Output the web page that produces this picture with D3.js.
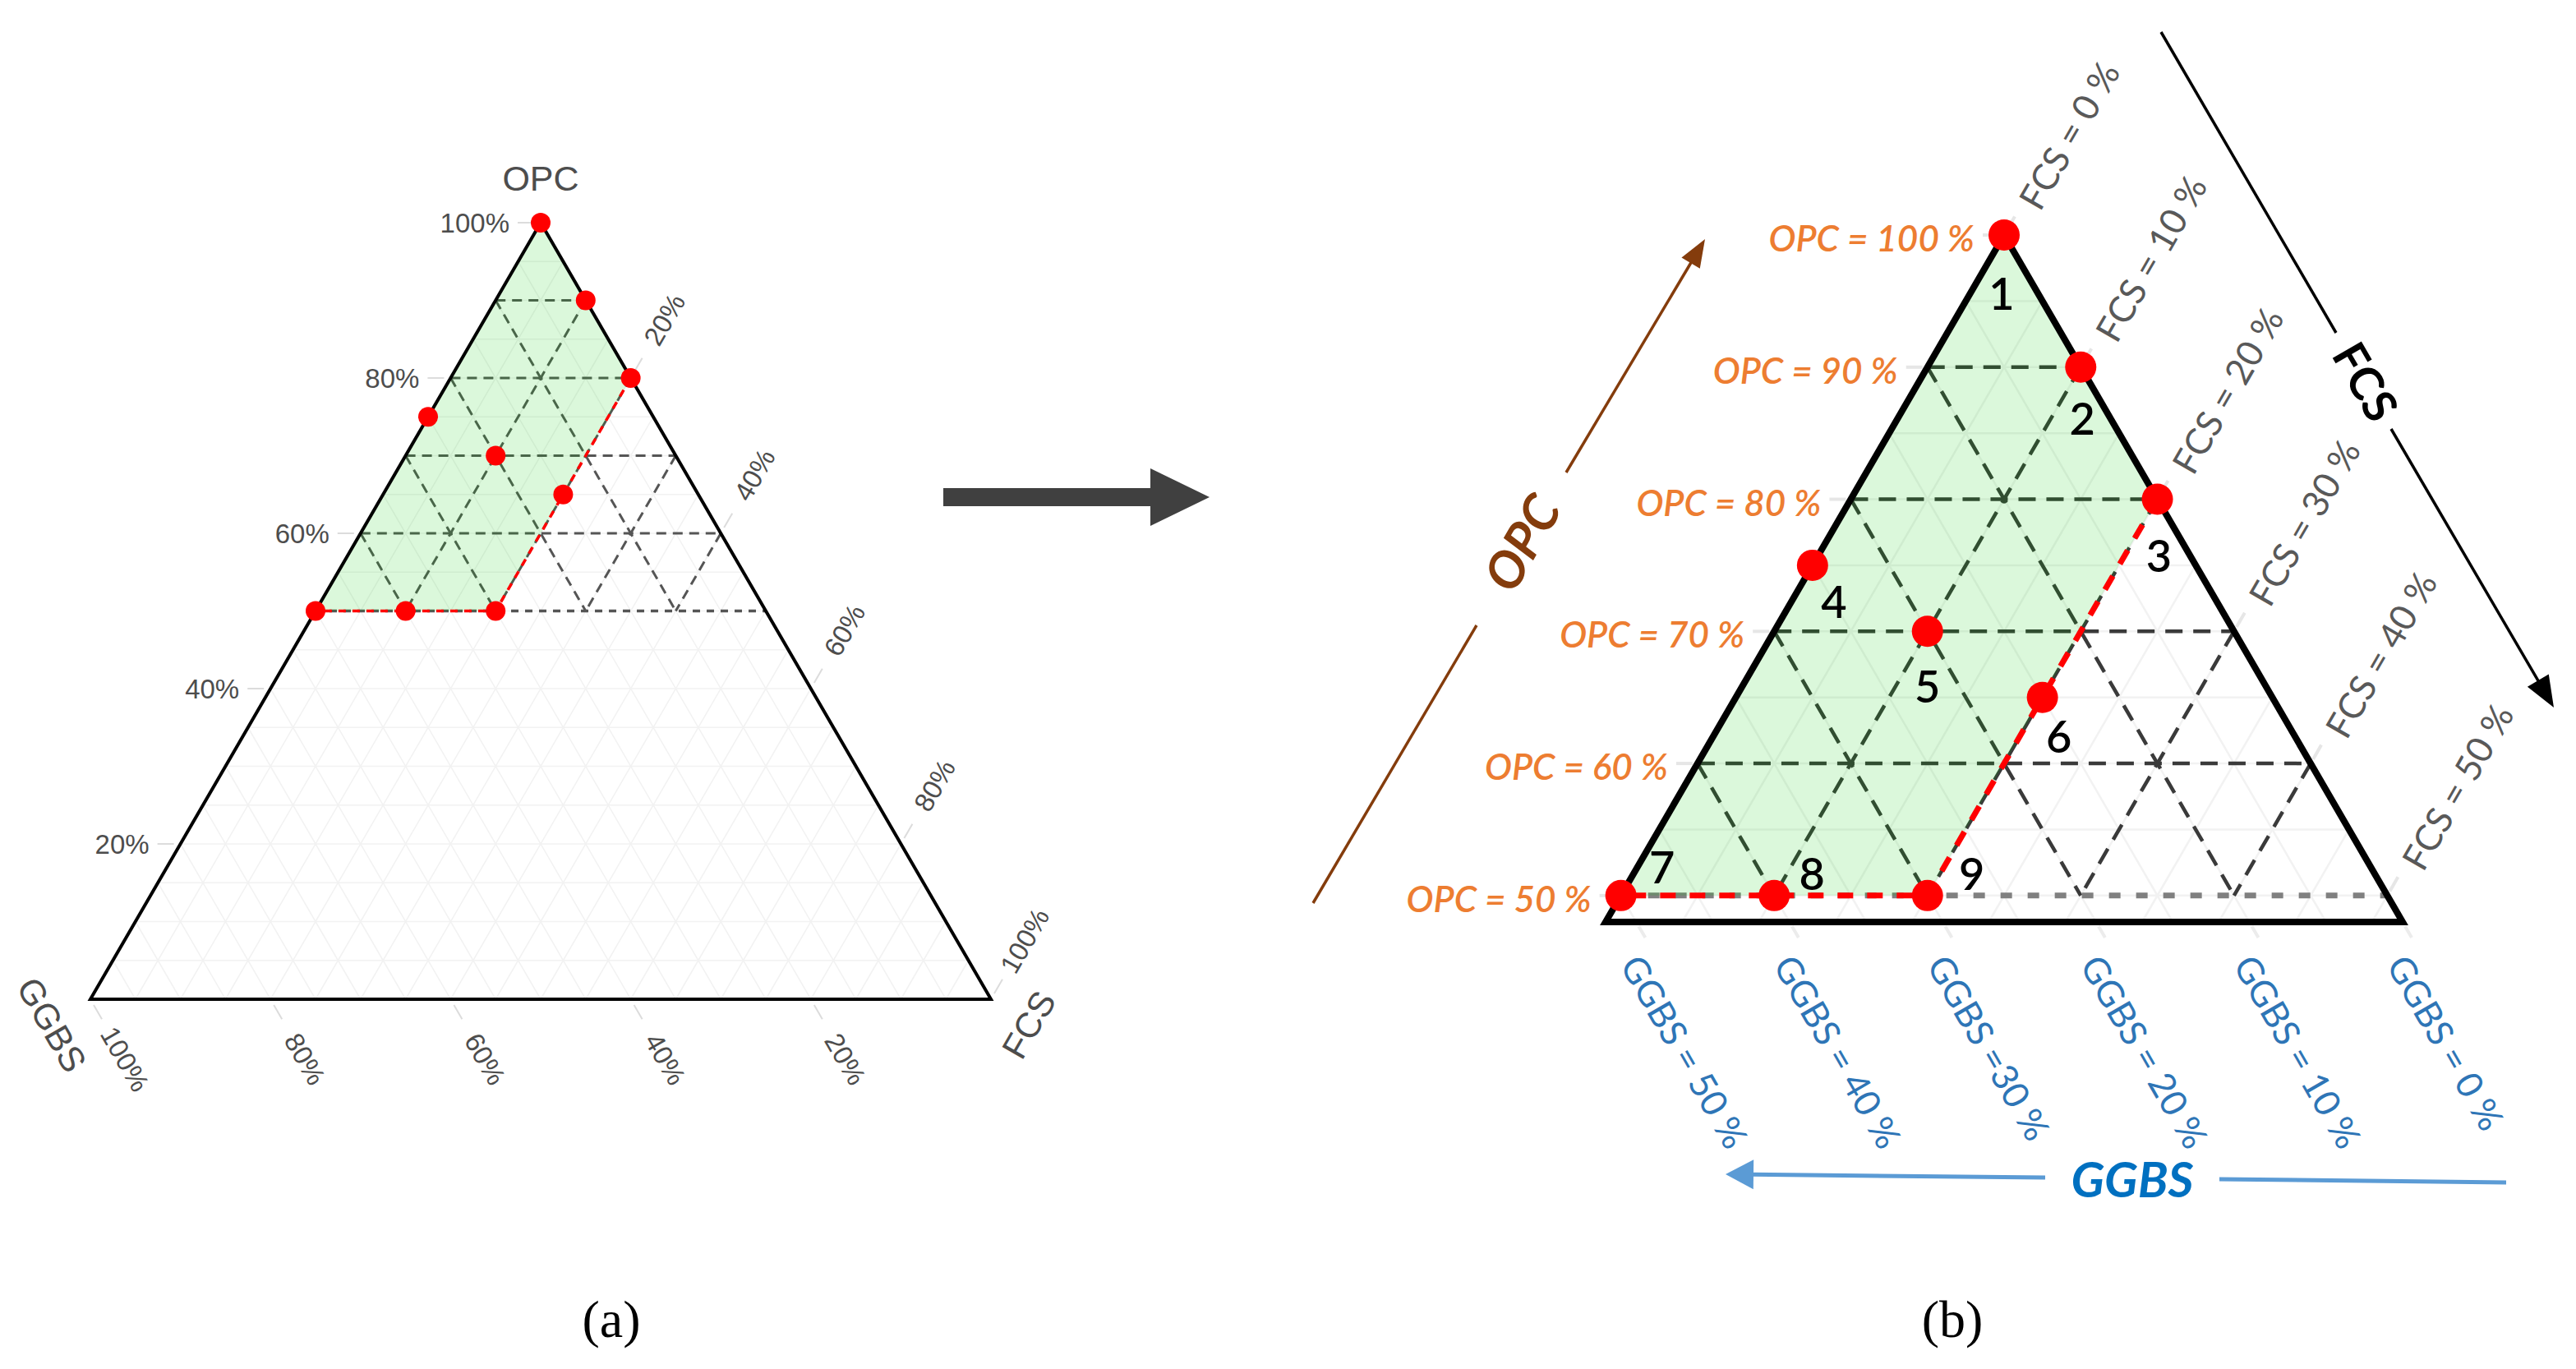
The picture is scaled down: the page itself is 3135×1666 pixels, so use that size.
<!DOCTYPE html>
<html>
<head>
<meta charset="utf-8">
<script src="https://cdnjs.cloudflare.com/ajax/libs/d3/7.8.5/d3.min.js"></script>
<style>
  body { margin: 0; background: #fff; }
  svg { display: block; }
</style>
</head>
<body>
<div id="chart"></div>
<script>
// mixes, in percent of OPC / GGBS / FCS
var mixIds  = [1, 2, 3, 4, 5, 6, 7, 8, 9];
var mixOPC  = [100, 90, 80, 75, 70, 65, 50, 50, 50];
var mixGGBS = [0, 0, 0, 25, 20, 15, 50, 40, 30];
var mixFCS  = [0, 10, 20, 0, 10, 20, 0, 10, 20];

// green zone corners
var zoneOPC  = [100, 80, 50, 50];
var zoneGGBS = [0, 0, 30, 50];
var zoneFCS  = [0, 20, 20, 0];

// red boundary 3 -> 9 -> 7
var edgeOPC  = [80, 50, 50];
var edgeGGBS = [0, 30, 50];
var edgeFCS  = [20, 20, 0];

// dashed 10 % lattice inside OPC >= 50 %
var opcLevels  = [60, 70, 80, 90];
var sideLevels = [10, 20, 30, 40];
var baseOPC = 50;

// panel (a) ticks
var ticksA = [20, 40, 60, 80, 100];

// panel (b) ticks and labels
var opcTicksB  = [100, 90, 80, 70, 60, 50];
var opcLabelsB = ["OPC = 100 %", "OPC = 90 %", "OPC = 80 %", "OPC = 70 %", "OPC = 60 %", "OPC = 50 %"];
var fcsTicksB  = [0, 10, 20, 30, 40, 50];
var fcsLabelsB = ["FCS = 0 %", "FCS = 10 %", "FCS = 20 %", "FCS = 30 %", "FCS = 40 %", "FCS = 50 %"];
var ggbsTicksB  = [50, 40, 30, 20, 10, 0];
var ggbsLabelsB = ["GGBS = 50 %", "GGBS = 40 %", "GGBS =30 %", "GGBS = 20 %", "GGBS = 10 %", "GGBS = 0 %"];

// where the number sits relative to its point in (b)
var numberOffsets = [[-3, 70], [2, 62], [2, 68], [26, 44], [0, 66], [20, 47], [50, -35], [46, -27], [54, -27]];

var W = 3135, H = 1666;
var svg = d3.select("#chart").append("svg")
    .attr("width", W)
    .attr("height", H);

function ternary(box) {
    var span = 100 - box.tMin;
    var y = d3.scaleLinear().domain([box.tMin, 100]).range([box.bottom, box.top]);
    var x = d3.scaleLinear().domain([-span, span]).range([box.left, box.right]);
    var p = function(t, l, r) { return [x(r - l), y(t)]; };
    p.span = span;
    p.tMin = box.tMin;
    return p;
}

var line = d3.line();

function drawPanel(g, p, st) {
    var tMin = p.tMin, span = p.span;

    // faint background grid every 5 %
    d3.range(5, 100, 5).forEach(function(v) {
        var segs = [];
        if (v > tMin) segs.push([p(v, 100 - v, 0), p(v, 0, 100 - v)]);
        if (v < span) {
            segs.push([p(100 - v, v, 0), p(tMin, v, span - v)]);
            segs.push([p(100 - v, 0, v), p(tMin, span - v, v)]);
        }
        segs.forEach(function(s) {
            g.append("path").attr("d", line(s))
                .attr("stroke", "#f2f2f2").attr("stroke-width", st.grid).attr("fill", "none");
        });
    });

    // dashed lattice
    var lat = [];
    opcLevels.forEach(function(o) { lat.push([p(o, 100 - o, 0), p(o, 0, 100 - o)]); });
    sideLevels.forEach(function(v) {
        lat.push([p(100 - v, v, 0), p(baseOPC, v, 100 - baseOPC - v)]);
        lat.push([p(100 - v, 0, v), p(baseOPC, 100 - baseOPC - v, v)]);
    });
    g.selectAll(".lat").data(lat).enter().append("path")
        .attr("d", line)
        .attr("fill", "none")
        .attr("stroke", st.latColor)
        .attr("stroke-width", st.latW)
        .attr("stroke-dasharray", st.latDash);

    // OPC = 50 % base line
    g.append("path")
        .attr("d", line([p(baseOPC, 100 - baseOPC, 0), p(baseOPC, 0, 100 - baseOPC)]))
        .attr("fill", "none")
        .attr("stroke", st.baseColor)
        .attr("stroke-width", st.redW)
        .attr("stroke-dasharray", st.baseDash);

    // green zone
    var zone = zoneOPC.map(function(t, i) { return p(t, zoneGGBS[i], zoneFCS[i]); });
    g.append("path")
        .attr("d", line(zone) + "Z")
        .attr("fill", "rgb(0,205,0)")
        .attr("fill-opacity", 0.14);

    // triangle outline
    g.append("path")
        .attr("d", line([p(100, 0, 0), p(tMin, span, 0), p(tMin, 0, span)]) + "Z")
        .attr("fill", "none")
        .attr("stroke", "#000")
        .attr("stroke-width", st.outline)
        .attr("stroke-linejoin", "miter");

    // red boundary
    var edge = edgeOPC.map(function(t, i) { return p(t, edgeGGBS[i], edgeFCS[i]); });
    g.append("path")
        .attr("d", line(edge))
        .attr("fill", "none")
        .attr("stroke", "#ff0000")
        .attr("stroke-width", st.redW)
        .attr("stroke-dasharray", st.redDash);

    // mixes
    g.selectAll(".mix").data(mixIds).enter().append("circle")
        .attr("cx", function(d, i) { return p(mixOPC[i], mixGGBS[i], mixFCS[i])[0]; })
        .attr("cy", function(d, i) { return p(mixOPC[i], mixGGBS[i], mixFCS[i])[1]; })
        .attr("r", st.r)
        .attr("fill", "#ff0000");
}

function tick(g, x, y, ux, uy, a, b, color, w) {
    g.append("line")
        .attr("x1", x + ux * a).attr("y1", y + uy * a)
        .attr("x2", x + ux * b).attr("y2", y + uy * b)
        .attr("stroke", color).attr("stroke-width", w);
}

var S3 = Math.sqrt(3) / 2;

// ---------- panel (a) ----------
var pA = ternary({ tMin: 0, top: 271, bottom: 1216, left: 110, right: 1206 });
var tickA = svg.append("g");
var gA = svg.append("g");
drawPanel(gA, pA, {
    grid: 1.5, latColor: "#555", latW: 3, latDash: "12,8",
    baseColor: "#555", baseDash: "9,8", redW: 3.5, redDash: "9,8",
    outline: 4, r: 12
});

var fontA = "'Liberation Sans', Arial, sans-serif";
ticksA.forEach(function(v) {
    var l = pA(v, 100 - v, 0);
    tick(tickA, l[0], l[1], -1, 0, 8, 28, "#dcdcdc", 2);
    gA.append("text").attr("x", l[0] - 38).attr("y", l[1])
        .attr("text-anchor", "end").attr("dominant-baseline", "central")
        .attr("font-family", fontA).attr("font-size", 33).attr("fill", "#4d4d4d")
        .text(v + "%");

    var r = pA(100 - v, 0, v);
    tick(tickA, r[0], r[1], 0.5, -S3, 8, 28, "#dcdcdc", 2);
    var rx = r[0] + 0.5 * 82, ry = r[1] - S3 * 82;
    gA.append("text").attr("transform", "translate(" + rx + "," + ry + ") rotate(-60)")
        .attr("text-anchor", "middle").attr("dominant-baseline", "central")
        .attr("font-family", fontA).attr("font-size", 33).attr("fill", "#4d4d4d")
        .text(v + "%");

    var b = pA(0, v, 100 - v);
    tick(tickA, b[0], b[1], 0.5, S3, 8, 28, "#dcdcdc", 2);
    var bx = b[0] + 0.5 * 84, by = b[1] + S3 * 84;
    gA.append("text").attr("transform", "translate(" + bx + "," + by + ") rotate(60)")
        .attr("text-anchor", "middle").attr("dominant-baseline", "central")
        .attr("font-family", fontA).attr("font-size", 33).attr("fill", "#4d4d4d")
        .text(v + "%");
});

var topA = pA(100, 0, 0), blA = pA(0, 100, 0), brA = pA(0, 0, 100);
gA.append("text").attr("x", topA[0]).attr("y", topA[1] - 54)
    .attr("text-anchor", "middle").attr("dominant-baseline", "central")
    .attr("font-family", fontA).attr("font-size", 43).attr("fill", "#4d4d4d").text("OPC");
gA.append("text").attr("transform", "translate(" + (blA[0] - 47) + "," + (blA[1] + 31) + ") rotate(60)")
    .attr("text-anchor", "middle").attr("dominant-baseline", "central")
    .attr("font-family", fontA).attr("font-size", 43).attr("fill", "#4d4d4d").text("GGBS");
gA.append("text").attr("transform", "translate(" + (brA[0] + 46) + "," + (brA[1] + 31) + ") rotate(-60)")
    .attr("text-anchor", "middle").attr("dominant-baseline", "central")
    .attr("font-family", fontA).attr("font-size", 43).attr("fill", "#4d4d4d").text("FCS");

// ---------- panel (b) ----------
var pB = ternary({ tMin: 48, top: 286, bottom: 1122, left: 1954, right: 2924 });
var tickB = svg.append("g");
var gB = svg.append("g");
drawPanel(gB, pB, {
    grid: 2.5, latColor: "#3a3a3a", latW: 4.5, latDash: "21,13",
    baseColor: "#808080", baseDash: "14,19", redW: 7, redDash: "19,17",
    outline: 8, r: 19
});

var fontB = "Lato, 'Open Sans', sans-serif";

opcTicksB.forEach(function(v, i) {
    var l = pB(v, 100 - v, 0);
    tick(tickB, l[0], l[1], -1, 0, 6, 26, "#e6e6e6", 4);
    gB.append("text").attr("x", l[0] - 36).attr("y", l[1] + 3)
        .attr("text-anchor", "end").attr("dominant-baseline", "central")
        .attr("font-family", fontB).attr("font-style", "italic").attr("font-weight", 600)
        .attr("font-size", 44).attr("fill", "#ed7d31").text(opcLabelsB[i]);
});

fcsTicksB.forEach(function(v, i) {
    var r = pB(100 - v, 0, v);
    tick(tickB, r[0], r[1], 0.5, -S3, 6, 26, "#e6e6e6", 4);
    var rx = r[0] + 0.5 * 46 + 6, ry = r[1] - S3 * 46 + 4;
    gB.append("text").attr("transform", "translate(" + rx + "," + ry + ") rotate(-60)")
        .attr("text-anchor", "start").attr("dominant-baseline", "central")
        .attr("font-family", fontB).attr("font-size", 44)
        .attr("fill", "#595959").text(fcsLabelsB[i]);
});

ggbsTicksB.forEach(function(v, i) {
    var b = pB(pB.tMin, v, pB.span - v);
    tick(tickB, b[0], b[1], 0.5, S3, 6, 22, "#ececec", 4);
    gB.append("text").attr("transform", "translate(" + (b[0] - 6) + "," + (b[1] + 44) + ") rotate(60)")
        .attr("text-anchor", "start").attr("dominant-baseline", "central")
        .attr("font-family", fontB).attr("font-size", 44)
        .attr("fill", "#2e75b6").text(ggbsLabelsB[i]);
});

// numbers next to the mixes
gB.selectAll(".num").data(mixIds).enter().append("text")
    .attr("x", function(d, i) { return pB(mixOPC[i], mixGGBS[i], mixFCS[i])[0] + numberOffsets[i][0]; })
    .attr("y", function(d, i) { return pB(mixOPC[i], mixGGBS[i], mixFCS[i])[1] + numberOffsets[i][1]; })
    .attr("text-anchor", "middle").attr("dominant-baseline", "central")
    .attr("font-family", fontB).attr("font-weight", 600).attr("font-size", 54)
    .attr("fill", "#000")
    .text(function(d) { return d; });

// ---------- annotation arrows ----------
function arrow(x1, y1, x2, y2, color, w, hl, hw) {
    var dx = x2 - x1, dy = y2 - y1, len = Math.sqrt(dx * dx + dy * dy);
    var ux = dx / len, uy = dy / len, nx = -uy, ny = ux;
    var bx = x2 - ux * hl, by = y2 - uy * hl;
    svg.append("line").attr("x1", x1).attr("y1", y1).attr("x2", bx + ux * 2).attr("y2", by + uy * 2)
        .attr("stroke", color).attr("stroke-width", w);
    svg.append("path")
        .attr("d", "M" + x2 + "," + y2 + "L" + (bx + nx * hw) + "," + (by + ny * hw) +
            "L" + (bx - nx * hw) + "," + (by - ny * hw) + "Z")
        .attr("fill", color);
}
function seg(x1, y1, x2, y2, color, w) {
    svg.append("line").attr("x1", x1).attr("y1", y1).attr("x2", x2).attr("y2", y2)
        .attr("stroke", color).attr("stroke-width", w);
}

// OPC arrow (brown)
seg(1598, 1099, 1797, 761, "#843c0c", 3.5);
arrow(1906, 575, 2075, 291, "#843c0c", 3.5, 34, 13);
svg.append("text").attr("transform", "translate(1851,660) rotate(-60)")
    .attr("text-anchor", "middle").attr("dominant-baseline", "central")
    .attr("font-family", fontB).attr("font-style", "italic").attr("font-weight", 700)
    .attr("font-size", 62).attr("fill", "#843c0c").text("OPC");

// FCS arrow (black)
seg(2630, 39, 2843, 405, "#000", 3.5);
arrow(2910, 522, 3108, 861, "#000", 3.5, 38, 15);
svg.append("text").attr("transform", "translate(2880,464) rotate(60)")
    .attr("text-anchor", "middle").attr("dominant-baseline", "central")
    .attr("font-family", fontB).attr("font-weight", 700)
    .attr("font-size", 56).attr("fill", "#000").text("FCS");

// GGBS arrow (blue)
seg(3050, 1439, 2701, 1435, "#5b9bd5", 5);
arrow(2489, 1433, 2100, 1429, "#5b9bd5", 5, 34, 18);
svg.append("text").attr("x", 2595).attr("y", 1434)
    .attr("text-anchor", "middle").attr("dominant-baseline", "central")
    .attr("font-family", fontB).attr("font-style", "italic").attr("font-weight", 700)
    .attr("font-size", 60).attr("fill", "#0070c0").text("GGBS");

// big arrow between the panels
svg.append("rect").attr("x", 1148).attr("y", 594).attr("width", 256).attr("height", 22).attr("fill", "#404040");
svg.append("path").attr("d", "M1400,570L1472,605L1400,640Z").attr("fill", "#404040");

// captions
svg.append("text").attr("x", 744).attr("y", 1605)
    .attr("text-anchor", "middle").attr("dominant-baseline", "central")
    .attr("font-family", "'Liberation Serif', 'Times New Roman', serif").attr("font-size", 64)
    .attr("fill", "#000").text("(a)");
svg.append("text").attr("x", 2376).attr("y", 1605)
    .attr("text-anchor", "middle").attr("dominant-baseline", "central")
    .attr("font-family", "'Liberation Serif', 'Times New Roman', serif").attr("font-size", 64)
    .attr("fill", "#000").text("(b)");
</script>
</body>
</html>
